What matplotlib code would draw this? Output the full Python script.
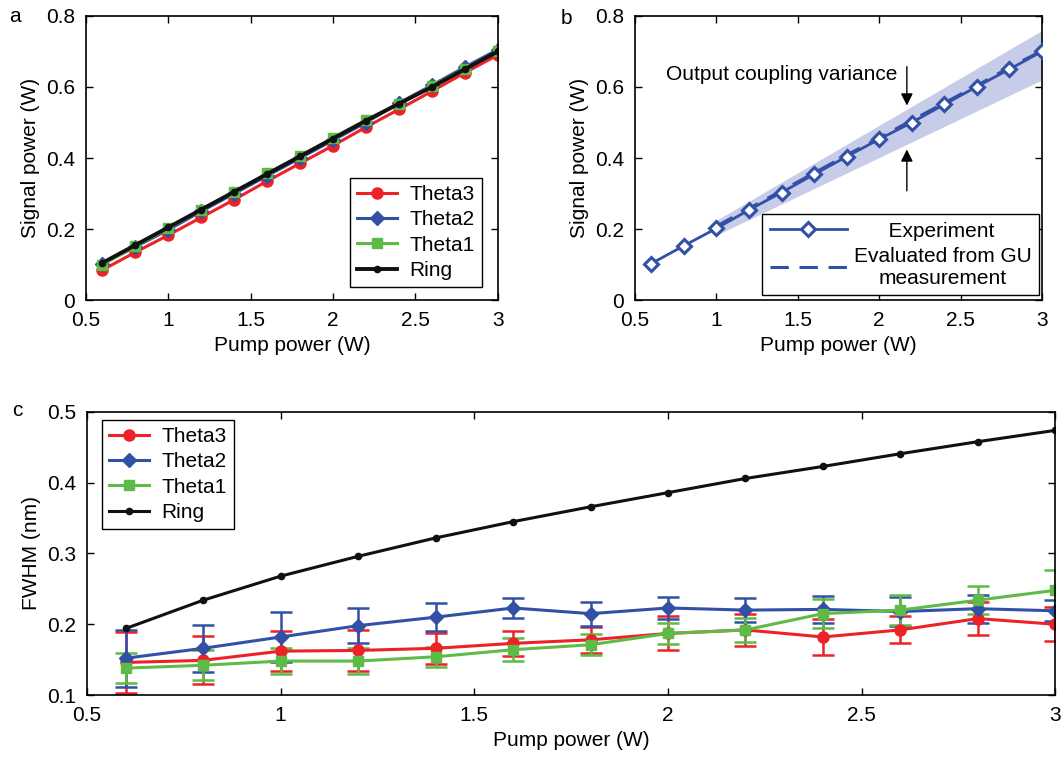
import numpy as np
import matplotlib
matplotlib.use("Agg")
import matplotlib.pyplot as plt

plt.rcParams["font.family"] = ["Liberation Sans", "DejaVu Sans"]
plt.rcParams["font.size"] = 15

# --- Pump power steps (W) ---
pump = [0.6, 0.8, 1.0, 1.2, 1.4, 1.6, 1.8, 2.0, 2.2, 2.4, 2.6, 2.8, 3.0]

# --- (a) signal power per device (W) ---
sig_theta3 = [0.085, 0.135, 0.183, 0.233, 0.283, 0.335, 0.385, 0.435, 0.487, 0.537, 0.588, 0.640, 0.690]
sig_theta2 = [0.102, 0.150, 0.198, 0.250, 0.300, 0.350, 0.400, 0.450, 0.500, 0.555, 0.605, 0.656, 0.705]
sig_theta1 = [0.100, 0.152, 0.202, 0.255, 0.305, 0.357, 0.405, 0.457, 0.507, 0.553, 0.603, 0.652, 0.700]
sig_ring = [0.105, 0.155, 0.205, 0.255, 0.305, 0.355, 0.405, 0.455, 0.505, 0.553, 0.600, 0.650, 0.700]

# --- (b) experiment vs GU evaluation ---
sig_exp = [0.103, 0.153, 0.202, 0.254, 0.303, 0.354, 0.404, 0.453, 0.500, 0.551, 0.601, 0.650, 0.700]
pump_gu = [1.0, 1.2, 1.4, 1.6, 1.8, 2.0, 2.2, 2.4, 2.6, 2.8, 3.0]
sig_gu = [0.208, 0.258, 0.308, 0.358, 0.408, 0.457, 0.506, 0.555, 0.604, 0.655, 0.702]
band_x = [1.0, 3.0]
band_hi = [0.225, 0.759]
band_lo = [0.183, 0.620]

# --- (c) FWHM (nm) with error bars ---
fw_theta3 = [0.146, 0.149, 0.162, 0.163, 0.166, 0.173, 0.178, 0.187, 0.192, 0.182, 0.192, 0.208, 0.200]
er_theta3 = [0.043, 0.034, 0.028, 0.029, 0.022, 0.018, 0.018, 0.024, 0.023, 0.025, 0.019, 0.023, 0.024]
fw_theta2 = [0.152, 0.166, 0.182, 0.198, 0.210, 0.223, 0.215, 0.223, 0.220, 0.221, 0.218, 0.222, 0.219]
er_theta2 = [0.040, 0.033, 0.035, 0.025, 0.020, 0.014, 0.017, 0.016, 0.017, 0.019, 0.020, 0.020, 0.015]
fw_theta1 = [0.138, 0.142, 0.148, 0.148, 0.154, 0.164, 0.171, 0.187, 0.192, 0.215, 0.220, 0.234, 0.248]
er_theta1 = [0.021, 0.021, 0.019, 0.019, 0.014, 0.016, 0.015, 0.015, 0.017, 0.020, 0.021, 0.020, 0.028]
fw_ring = [0.194, 0.234, 0.268, 0.296, 0.322, 0.345, 0.366, 0.386, 0.406, 0.423, 0.441, 0.458, 0.474]

RED = "#ec2227"
BLUE = "#3150a6"
GREEN = "#5fbb47"
BLACK = "#111111"

styles = [
    ("Theta3", RED, "o", 8),
    ("Theta2", BLUE, "D", 7),
    ("Theta1", GREEN, "s", 7),
    ("Ring", BLACK, "o", 4.5),
]

xt = [0.5, 1, 1.5, 2, 2.5, 3]
xtl = ["0.5", "1", "1.5", "2", "2.5", "3"]


def style_axes(ax):
    ax.tick_params(direction="in", top=True, right=True, length=5, width=1, pad=8)
    for s in ax.spines.values():
        s.set_linewidth(1.2)


def boxed_legend(ax, handles, labels, **kw):
    leg = ax.legend(handles, labels, fancybox=False, edgecolor="black", framealpha=1,
                    borderaxespad=0, **kw)
    leg.get_frame().set_linewidth(1.0)
    return leg


fig = plt.figure(figsize=(10.64, 7.58), dpi=100)
ax_a = fig.add_axes([0.0808, 0.604, 0.387, 0.375])
ax_b = fig.add_axes([0.5968, 0.604, 0.3825, 0.375])
ax_c = fig.add_axes([0.0818, 0.0831, 0.910, 0.3734])

# --- panel a ---
for (name, col, mk, ms), ys in zip(styles, [sig_theta3, sig_theta2, sig_theta1, sig_ring]):
    ax_a.plot(pump, ys, color=col, marker=mk, ms=ms, lw=2.2 if name != "Ring" else 2.8,
              label=name)
ax_a.set_xlim(0.5, 3)
ax_a.set_ylim(0, 0.8)
ax_a.set_xticks(xt)
ax_a.set_xticklabels(xtl)
ax_a.set_yticks([0, 0.2, 0.4, 0.6, 0.8])
ax_a.set_yticklabels(["0", "0.2", "0.4", "0.6", "0.8"])
ax_a.set_xlabel("Pump power (W)")
ax_a.set_ylabel("Signal power (W)")
ha, la = ax_a.get_legend_handles_labels()
boxed_legend(ax_a, ha, la, loc="lower right", bbox_to_anchor=(0.961, 0.046),
             handlelength=1.9, labelspacing=0.3, borderpad=0.35, handletextpad=0.6)
style_axes(ax_a)

# --- panel b ---
ax_b.fill_between(band_x, band_lo, band_hi, color="#c7cce8", lw=0, zorder=1)
ax_b.plot(pump_gu, sig_gu, color=BLUE, lw=2.2, dashes=(6, 3.5), zorder=2,
          label="Evaluated from GU\nmeasurement")
ax_b.plot(pump, sig_exp, color=BLUE, lw=2.0, marker="D", ms=7, mfc="white", mec=BLUE,
          mew=2.2, zorder=3, label="      Experiment")
ax_b.annotate("", xy=(2.17, 0.54), xytext=(2.17, 0.665),
              arrowprops=dict(arrowstyle="-|>", color="black", lw=1, mutation_scale=18))
ax_b.annotate("", xy=(2.17, 0.432), xytext=(2.17, 0.30),
              arrowprops=dict(arrowstyle="-|>", color="black", lw=1, mutation_scale=18))
ax_b.text(2.11, 0.634, "Output coupling variance", ha="right", va="center", fontsize=15)
ax_b.set_xlim(0.5, 3)
ax_b.set_ylim(0, 0.8)
ax_b.set_xticks(xt)
ax_b.set_xticklabels(xtl)
ax_b.set_yticks([0, 0.2, 0.4, 0.6, 0.8])
ax_b.set_yticklabels(["0", "0.2", "0.4", "0.6", "0.8"])
ax_b.set_xlabel("Pump power (W)")
ax_b.set_ylabel("Signal power (W)")
hb, lb = ax_b.get_legend_handles_labels()
leg_b = boxed_legend(ax_b, hb[::-1], lb[::-1], loc="lower right",
                     bbox_to_anchor=(0.993, 0.018), handlelength=3.7, labelspacing=0.3,
                     borderpad=0.35, handletextpad=0.35)
for t in leg_b.get_texts():
    t.set_multialignment("center")
style_axes(ax_b)

# --- panel c ---
hc = []
for (name, col, mk, ms), ys, es in zip(styles[:3], [fw_theta3, fw_theta2, fw_theta1],
                                      [er_theta3, er_theta2, er_theta1]):
    cont = ax_c.errorbar(pump, ys, yerr=es, color=col, marker=mk, ms=ms, lw=2.2,
                         elinewidth=1.8, capsize=8, capthick=1.8)
    hc.append(cont[0])
ring_line, = ax_c.plot(pump, fw_ring, color=BLACK, marker="o", ms=4.5, lw=2.2)
hc.append(ring_line)
ax_c.set_xlim(0.5, 3)
ax_c.set_ylim(0.1, 0.5)
ax_c.set_xticks(xt)
ax_c.set_xticklabels(xtl)
ax_c.set_yticks([0.1, 0.2, 0.3, 0.4, 0.5])
ax_c.set_xlabel("Pump power (W)")
ax_c.set_ylabel("FWHM (nm)")
boxed_legend(ax_c, hc, [s[0] for s in styles], loc="upper left",
             bbox_to_anchor=(0.0155, 0.972), handlelength=1.9, labelspacing=0.3,
             borderpad=0.35, handletextpad=0.6)
style_axes(ax_c)

# panel letters
fig.text(0.009, 0.978, "a", fontsize=15, va="center")
fig.text(0.527, 0.975, "b", fontsize=15, va="center")
fig.text(0.011, 0.459, "c", fontsize=15, va="center")

fig.savefig("out.png", dpi=100)
